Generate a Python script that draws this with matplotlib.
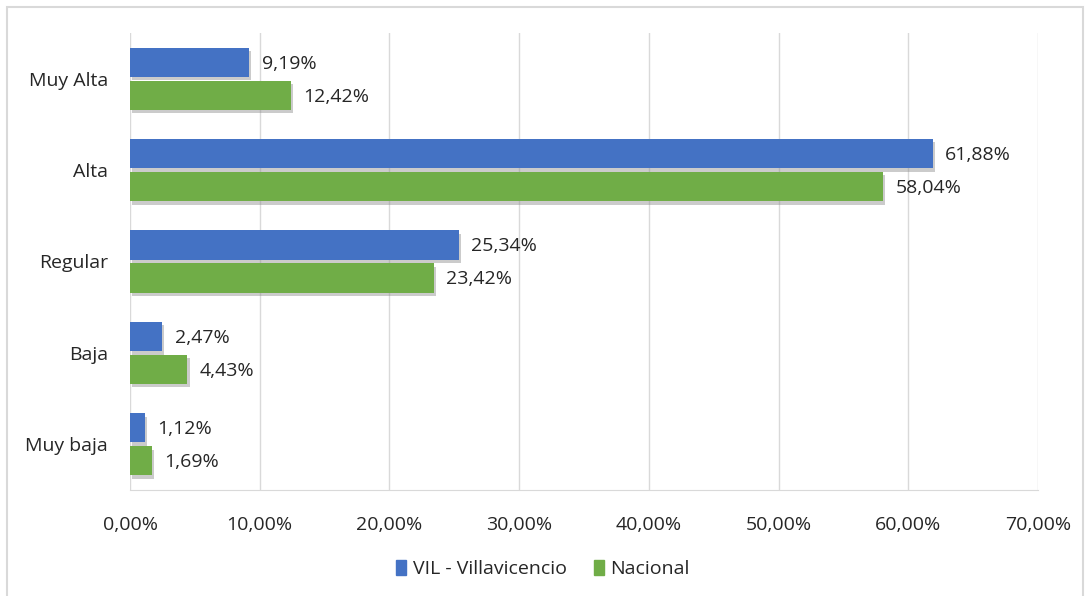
import matplotlib.pyplot as plt
import matplotlib.patheffects as pe
from matplotlib.patches import Rectangle, Patch
from matplotlib.ticker import FuncFormatter
import numpy as np

# Categories listed bottom to top
categories = ["Muy baja", "Baja", "Regular", "Alta", "Muy Alta"]
villavicencio = [1.12, 2.47, 25.34, 61.88, 9.19]
nacional = [1.69, 4.43, 23.42, 58.04, 12.42]
series_names = ["VIL - Villavicencio", "Nacional"]

BLUE = "#4472C4"
GREEN = "#70AD47"
TEXT = "#262626"
FS = 14

plt.rcParams['font.family'] = ['Open Sans', 'DejaVu Sans']

fig = plt.figure(figsize=(10.86, 5.96), dpi=100)
ax = fig.add_axes([130 / 1086, 1 - 490 / 596, 908 / 1086, 457 / 596])

# light frame around the chart area
fig.patches.append(Rectangle((7 / 1086, -0.01), 1076 / 1086, 1 - 7 / 596 + 0.01,
                             transform=fig.transFigure, fill=False,
                             edgecolor="#d9d9d9", linewidth=1.5))

y = np.arange(len(categories))
h = 0.32
off = 0.18
shadow = [pe.SimplePatchShadow(offset=(1.5, -2.5), shadow_rgbFace="#8c8c8c", alpha=0.45), pe.Normal()]

b1 = ax.barh(y + off, villavicencio, height=h, color=BLUE,
             path_effects=shadow, zorder=3)
b2 = ax.barh(y - off, nacional, height=h, color=GREEN,
             path_effects=shadow, zorder=3)

def pct(v):
    return f"{v:.2f}".replace(".", ",") + "%"

for bars, vals in ((b1, villavicencio), (b2, nacional)):
    for bar, v in zip(bars, vals):
        ax.annotate(pct(v), (v, bar.get_y() + bar.get_height() / 2),
                    xytext=(9, -1), textcoords="offset points",
                    va="center", ha="left", fontsize=FS, color=TEXT)

ax.set_xlim(0, 70)
ax.set_ylim(-0.5, len(categories) - 0.5)
ax.set_xticks(np.arange(0, 71, 10))
ax.xaxis.set_major_formatter(FuncFormatter(lambda v, _: pct(v)))
ax.set_yticks(y)
ax.set_yticklabels(categories)
ax.tick_params(axis="both", length=0, labelsize=FS, colors=TEXT)
ax.tick_params(axis="x", pad=19)
ax.tick_params(axis="y", pad=16)

ax.grid(axis="x", color="#d9d9d9", linewidth=1, zorder=0)
ax.set_axisbelow(True)
for s in ("top", "right", "left"):
    ax.spines[s].set_visible(False)
ax.spines["bottom"].set_color("#d9d9d9")

# plain squares for the legend, without the bar shadow
handles = [Patch(color=BLUE), Patch(color=GREEN)]
fig.legend(handles=handles, labels=series_names, loc="center", ncol=2,
           bbox_to_anchor=(0.5, 1 - 569 / 596), frameon=False, fontsize=14,
           handlelength=0.5, handleheight=0.8, handletextpad=0.35, columnspacing=1.4,
           labelcolor=TEXT)

fig.savefig("out.png", dpi=100)
